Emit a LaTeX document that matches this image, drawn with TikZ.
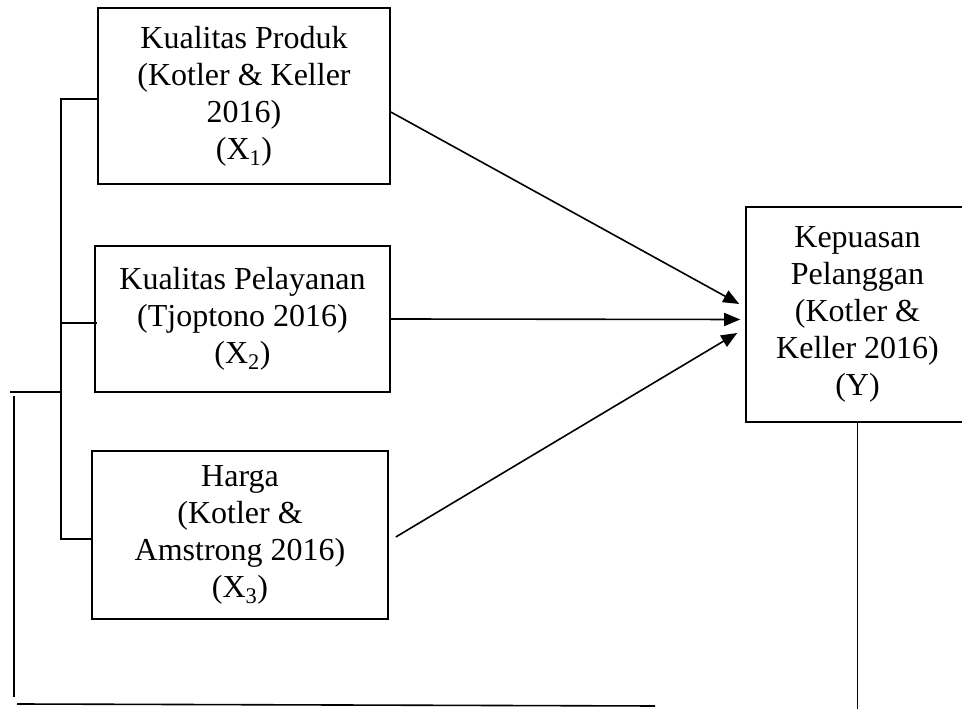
\documentclass[tikz,border=0pt]{standalone}
\usepackage{fontspec}
\setmainfont{Liberation Serif}
\usetikzlibrary{arrows.meta}
\tikzset{kotak/.style={draw, line width=1.6pt, inner sep=0pt, align=center, font=\fontsize{32}{37}\selectfont}}
\begin{document}
\begin{tikzpicture}[x=1pt, y=1pt, >={Triangle[length=16pt,width=13pt]}, line width=1.6pt]
\useasboundingbox (0,0) rectangle (962,709);
\clip (0,0) rectangle (962,709);
\node[kotak, minimum width=292pt, minimum height=176pt] (prod) at (244,613) {Kualitas Produk\\(Kotler \& Keller\\2016)\\(X\textsubscript{1})};
\node[kotak, minimum width=295pt, minimum height=146pt] (layan) at (242.5,390) {Kualitas Pelayanan\\(Tjoptono 2016)\\(X\textsubscript{2})};
\node[kotak, minimum width=296pt, minimum height=168pt] (harga) at (240,174) {Harga\\(Kotler \&\\Amstrong 2016)\\(X\textsubscript{3})};
\node[kotak, minimum width=223pt, minimum height=215pt] (puas) at (857.5,394.5) {Kepuasan\\Pelanggan\\(Kotler \&\\Keller 2016)\\(Y)};
% panah ke Y
\draw[->] ([yshift=-16pt]prod.east) -- ([xshift=-6pt,yshift=10.5pt]puas.west);
\draw[->] (layan.east) -- ([xshift=-5pt,yshift=-5pt]puas.west);
\draw[->] ([xshift=7pt,yshift=-2pt]harga.east) -- ([xshift=-8pt,yshift=-18.5pt]puas.west);
% kurung kiri
\coordinate (k1) at (61,610);
\coordinate (k3) at (61,170);
\draw (prod.west |- k1) -- (k1) -- (k3) -- ([xshift=2pt]harga.west |- k3);
\draw (61,386) -- ([xshift=3pt]layan.west |- 0,386);
% garis balik
\draw (10,317) -- (61,317);
\draw (14,313) -- (14,12);
\draw (17,5) -- (655,3);
\draw (puas.south) -- ++(0,-300);
\end{tikzpicture}
\end{document}
